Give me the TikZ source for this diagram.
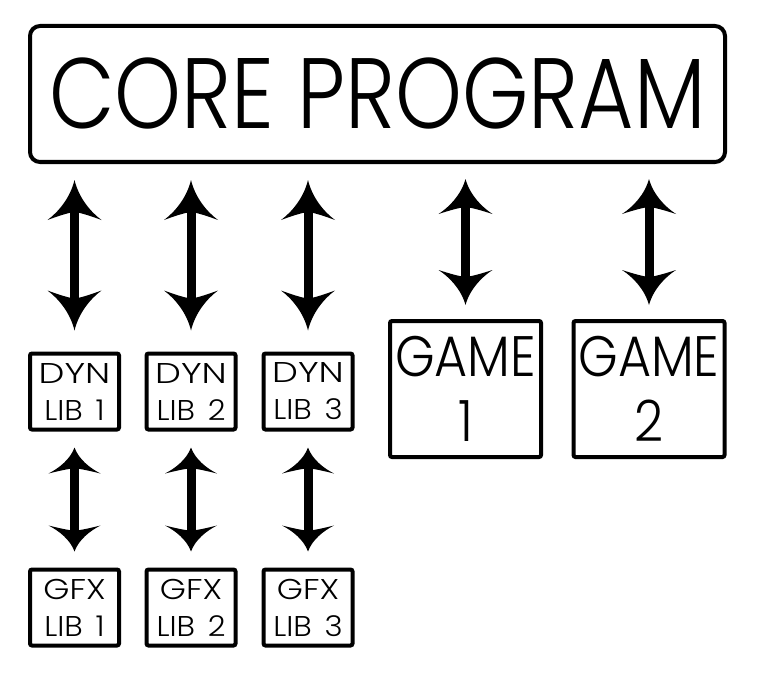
\documentclass[tikz,border=0pt]{standalone}
\usepackage{fontspec}
\setmainfont{Poppins Light}
\usetikzlibrary{arrows.meta}
\pgfdeclarearrow{
  name = Flare,
  parameters = {\the\pgfarrowlength,\the\pgfarrowwidth},
  setup code = {
    \pgfarrowssettipend{0pt}
    \pgfarrowssetlineend{-0.6\pgfarrowlength}
    \pgfarrowssetbackend{-\pgfarrowlength}
    \pgfarrowssetvisualbackend{-0.75\pgfarrowlength}
    \pgfarrowshullpoint{0pt}{0pt}
    \pgfarrowshullpoint{-\pgfarrowlength}{.5\pgfarrowwidth}
    \pgfarrowshullpoint{-\pgfarrowlength}{-.5\pgfarrowwidth}
    \pgfarrowssavethe\pgfarrowlength
    \pgfarrowssavethe\pgfarrowwidth
  },
  drawing code = {
    \pgfpathmoveto{\pgfpointorigin}
    \pgfpathcurveto{\pgfpoint{-.45\pgfarrowlength}{.08\pgfarrowwidth}}{\pgfpoint{-.8\pgfarrowlength}{.3\pgfarrowwidth}}{\pgfpoint{-\pgfarrowlength}{.5\pgfarrowwidth}}
    \pgfpathcurveto{\pgfpoint{-.9\pgfarrowlength}{.3\pgfarrowwidth}}{\pgfpoint{-.82\pgfarrowlength}{.12\pgfarrowwidth}}{\pgfpoint{-.8\pgfarrowlength}{0pt}}
    \pgfpathcurveto{\pgfpoint{-.82\pgfarrowlength}{-.12\pgfarrowwidth}}{\pgfpoint{-.9\pgfarrowlength}{-.3\pgfarrowwidth}}{\pgfpoint{-\pgfarrowlength}{-.5\pgfarrowwidth}}
    \pgfpathcurveto{\pgfpoint{-.8\pgfarrowlength}{-.3\pgfarrowwidth}}{\pgfpoint{-.45\pgfarrowlength}{-.08\pgfarrowwidth}}{\pgfpointorigin}
    \pgfpathclose
    \pgfusepathqfill
  },
  defaults = {length = 40pt, width = 54pt}
}
\newcommand{\lbl}[2]{\scalebox{#1}[1]{#2}}
\newcommand{\dyn}{\lbl{1.28}{DYN}}
\newcommand{\gfx}{\lbl{1.17}{GFX}}
\newcommand{\lib}[1]{\lbl{1.08}{LIB\hspace{4pt} #1}}
\tikzset{
  corebox/.style={draw, line width=4pt, rounded corners=10pt, inner sep=0pt,
    minimum width=695pt, minimum height=136pt},
  libbox/.style={draw, line width=4pt, rounded corners=2pt, inner sep=0pt,
    minimum width=89pt, minimum height=76pt, align=center,
    font=\fontsize{28.6}{37}\selectfont},
  gamebox/.style={draw, line width=4pt, rounded corners=2pt, inner sep=0pt,
    minimum width=151pt, minimum height=136pt, align=center,
    font=\fontsize{57}{65}\selectfont},
  bigarrow/.style={line width=9pt, {Flare[length=40pt,width=54pt]}-{Flare[length=40pt,width=54pt]}},
  midarrow/.style={line width=9pt, {Flare[length=35pt,width=54pt]}-{Flare[length=35pt,width=54pt]}},
  smallarrow/.style={line width=9pt, {Flare[length=26pt,width=52pt]}-{Flare[length=26pt,width=52pt]}}
}
\begin{document}
\begin{tikzpicture}[x=1pt,y=-1pt]
\useasboundingbox[fill=white] (0,0) rectangle (767,679);
\node[corebox] (core) at (377.5,94) {\fontsize{100}{100}\selectfont\lbl{0.85}{CORE PROGRAM}};
\node[libbox] (d1) at (74.5,391.5) {\dyn\\\lib{1}};
\node[libbox] (d2) at (191,391.5) {\dyn\\\lib{2}};
\node[libbox] (d3) at (308,391.5) {\dyn\\\lib{3}};
\node[libbox] (x1) at (74.5,607.5) {\gfx\\\lib{1}};
\node[libbox] (x2) at (191,607.5) {\gfx\\\lib{2}};
\node[libbox] (x3) at (308,607.5) {\gfx\\\lib{3}};
\node[gamebox] (m1) at (465.5,389) {\lbl{0.89}{GAME}\\\lbl{0.89}{1}};
\node[gamebox] (m2) at (649,389) {\lbl{0.89}{GAME}\\\lbl{0.89}{2}};
\foreach \n in {d1,d2,d3}{
  \draw[bigarrow, shorten <=16pt, shorten >=21pt] (core.south -| \n.north) -- (\n.north);
}
\foreach \n in {m1,m2}{
  \draw[midarrow, shorten <=15pt, shorten >=14pt] (core.south -| \n.north) -- (\n.north);
}
\draw[smallarrow, shorten <=16pt, shorten >=16pt] (d1.south) -- (x1.north);
\draw[smallarrow, shorten <=16pt, shorten >=16pt] (d2.south) -- (x2.north);
\draw[smallarrow, shorten <=16pt, shorten >=16pt] (d3.south) -- (x3.north);
\end{tikzpicture}
\end{document}
